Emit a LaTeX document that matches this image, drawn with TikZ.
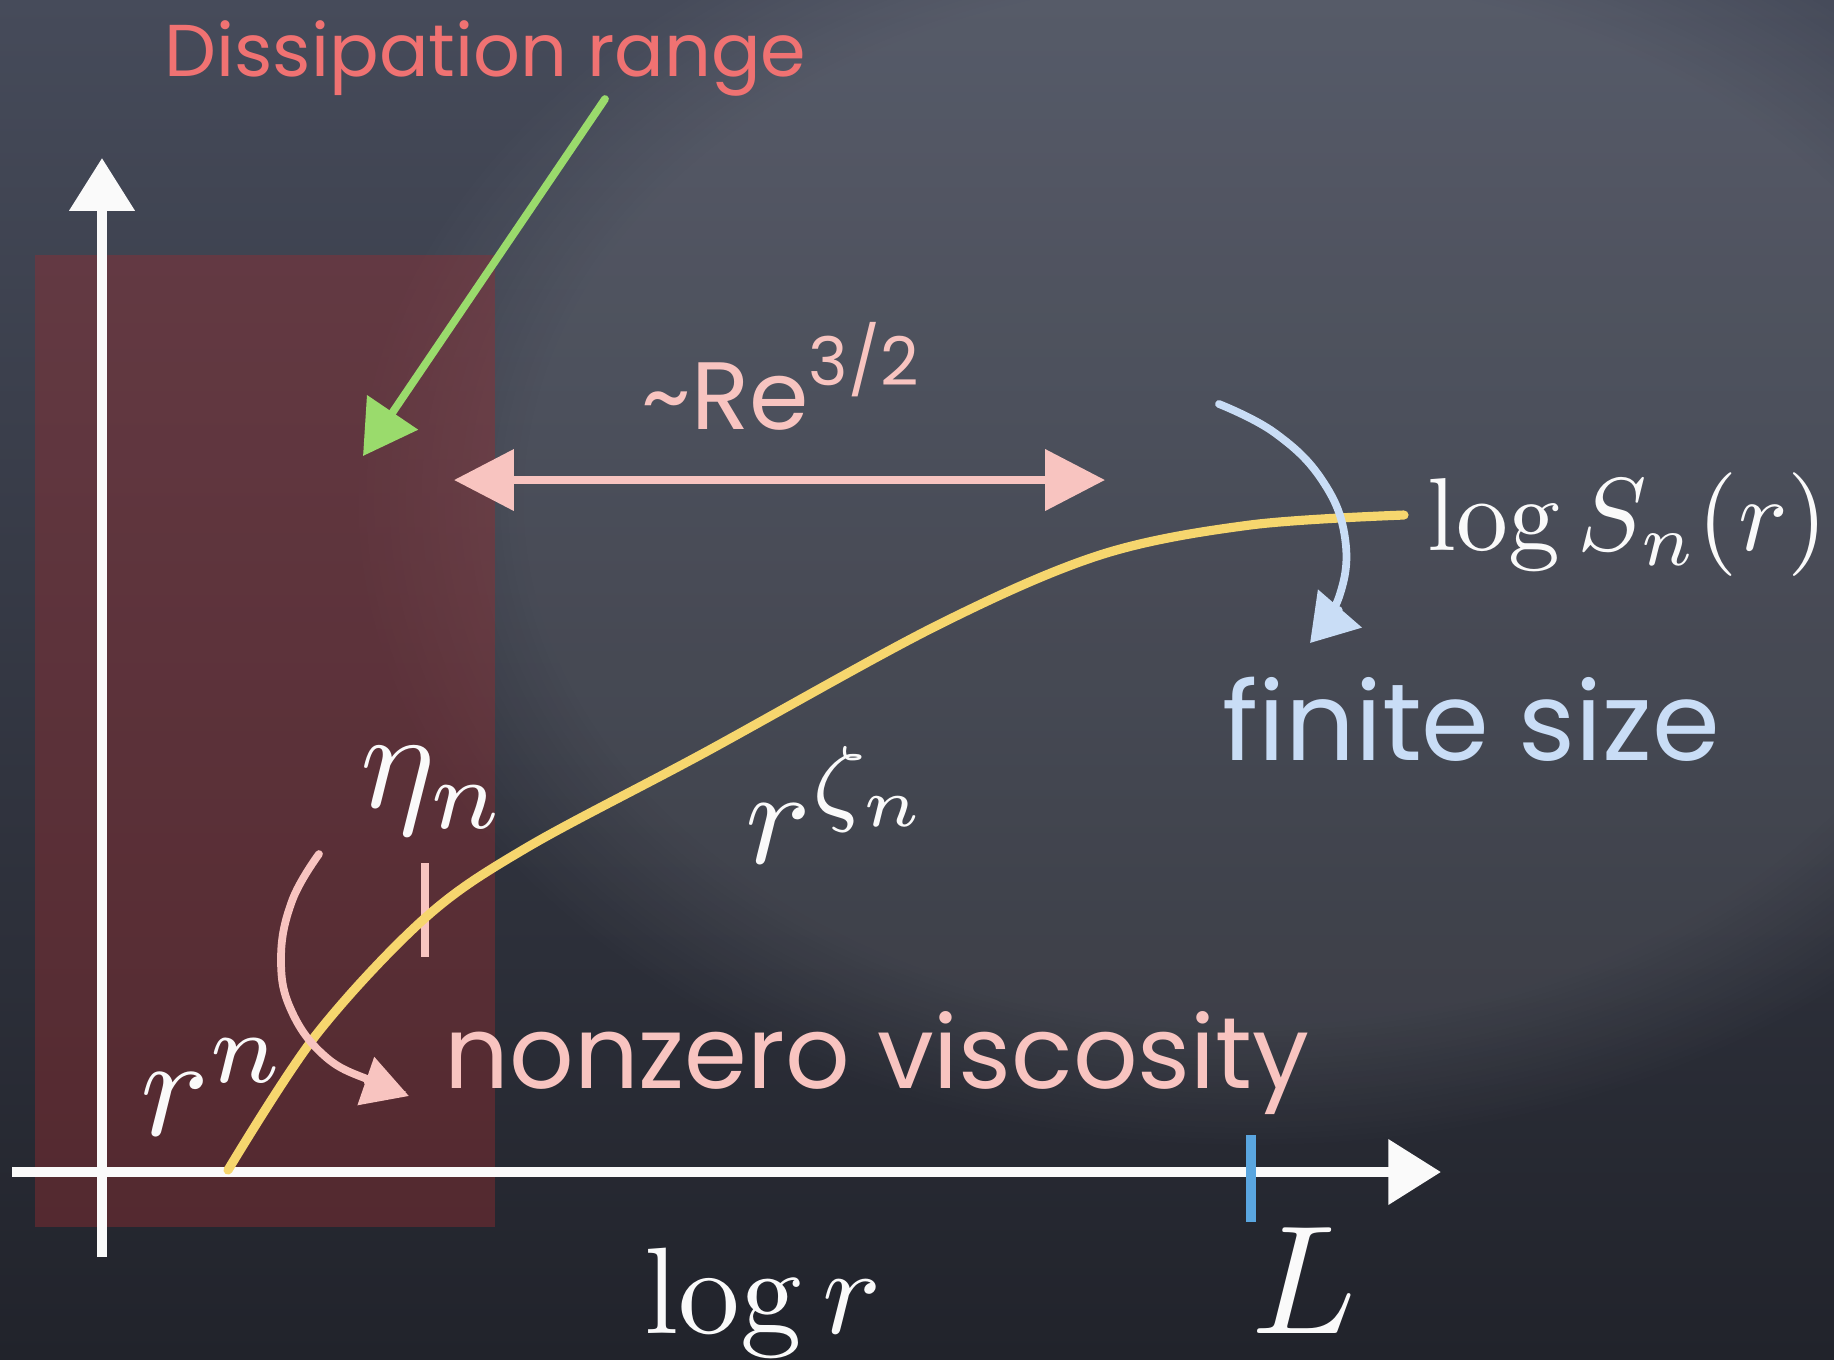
\documentclass[tikz,border=0pt]{standalone}
\usepackage{fontspec}
\usepackage{graphicx}
\newfontfamily\chalk{Poppins}
\usetikzlibrary{arrows.meta,fadings}
\definecolor{bgtop}{RGB}{70,75,90}
\definecolor{bgmid}{RGB}{68,72,86}
\definecolor{bgbot}{RGB}{33,35,43}
\definecolor{redbox}{RGB}{150,45,48}
\definecolor{chalkwhite}{RGB}{250,250,250}
\definecolor{chalkred}{RGB}{240,114,114}
\definecolor{chalkpink}{RGB}{248,196,192}
\definecolor{chalkgreen}{RGB}{154,219,108}
\definecolor{chalkyellow}{RGB}{246,214,110}
\definecolor{chalkblue}{RGB}{201,221,246}
\definecolor{tickblue}{RGB}{90,166,224}
\begin{document}
\begin{tikzpicture}[x=0.01cm,y=-0.01cm,
  axisline/.style={draw=chalkwhite, line width=2.8pt, -{Triangle[length=15pt,width=18pt]}},
  chalkarrow/.style={line width=2.2pt, line cap=round},
  mathlabel/.style={text=chalkwhite, inner sep=0pt},
  chalklabel/.style={inner sep=0pt, anchor=base west}]
\useasboundingbox (0,0) rectangle (1834,1359);
% background
\shade[top color=bgtop, middle color=bgmid, bottom color=bgbot] (0,0) rectangle (1834,1359);
\fill[white, opacity=0.09, path fading=circle with fuzzy edge 20 percent] (1250,500) ellipse [x radius=900, y radius=650];
% dissipation range box
\fill[redbox, opacity=0.42] (35,255) rectangle (495,1227);
% coordinates
\coordinate (xs) at (12,1172);
\coordinate (xe) at (1441,1172);
\coordinate (ys) at (102,1257);
\coordinate (ye) at (102,158);
\coordinate (gs) at (605,99);
\coordinate (ge) at (363,456);
\coordinate (ds) at (454,480);
\coordinate (de) at (1105,480);
\coordinate (ets) at (425,863);
\coordinate (ete) at (425,957);
\coordinate (lts) at (1251,1135);
\coordinate (lte) at (1251,1222);
% axes
\draw[axisline] (xs) -- (xe);
\draw[axisline] (ys) -- (ye);
% ticks
\draw[draw=tickblue, line width=2.6pt] (lts) -- (lte);
\draw[draw=chalkpink, line width=2.4pt] (ets) -- (ete);
% curve
\draw[draw=chalkyellow, line width=2.6pt, line cap=round] plot[smooth, tension=0.55] coordinates {
 (228,1170) (316,1035) (425,918) (526,848) (702,754) (936,626) (1100,555) (1250,525) (1404,515)};
% arrows
\draw[chalkarrow, draw=chalkgreen, -{Triangle[length=15pt,width=17pt]}] (gs) -- (ge);
\draw[chalkarrow, draw=chalkpink, {Triangle[length=17pt,width=17pt]}-{Triangle[length=17pt,width=17pt]}] (ds) -- (de);
\draw[chalkarrow, draw=chalkpink, -{Triangle[length=13pt,width=14pt]}] plot[smooth, tension=0.7] coordinates {
 (319,854) (292,901) (281,959) (292,1012) (327,1058) (374,1082) (409,1096)};
\draw[chalkarrow, draw=chalkblue, -{Triangle[length=13pt,width=16pt]}] plot[smooth, tension=0.7] coordinates {
 (1219,404) (1275,433) (1322,480) (1345,538) (1339,597) (1310,643)};
% chalk texts
\node[chalklabel, text=chalkred] (title) at (164,76) {\resizebox{6.41cm}{!}{\chalk Dissipation range}};
\node[chalklabel, text=chalkpink] (re) at (641,429) {\resizebox{2.77cm}{!}{\chalk \char"7E Re\raisebox{0.45em}{\scriptsize 3/2}}};
\node[chalklabel, text=chalkpink] (visc) at (444,1088) {\resizebox{8.64cm}{!}{\chalk nonzero viscosity}};
\node[chalklabel, text=chalkblue] (fin) at (1222,760) {\resizebox{4.97cm}{!}{\chalk finite size}};
% math labels
\node[mathlabel, anchor=base west] (logS) at (1427,550) {\scalebox{2.95}{$\log S_n(r)$}};
\node[mathlabel, anchor=base] (logr) at (763,1333) {\scalebox{3.5}{$\log r$}};
\node[mathlabel, anchor=base] (Lab) at (1304,1333) {\scalebox{4.4}{$L$}};
\node[mathlabel, anchor=base west] (rn) at (140,1135) {\scalebox{4.1}{$r^n$}};
\node[mathlabel, anchor=base west] (eta) at (360,807) {\scalebox{4.0}{$\eta_n$}};
\node[mathlabel, anchor=base west] (rz) at (745,863) {\scalebox{3.9}{$r^{\zeta_n}$}};
\end{tikzpicture}
\end{document}
